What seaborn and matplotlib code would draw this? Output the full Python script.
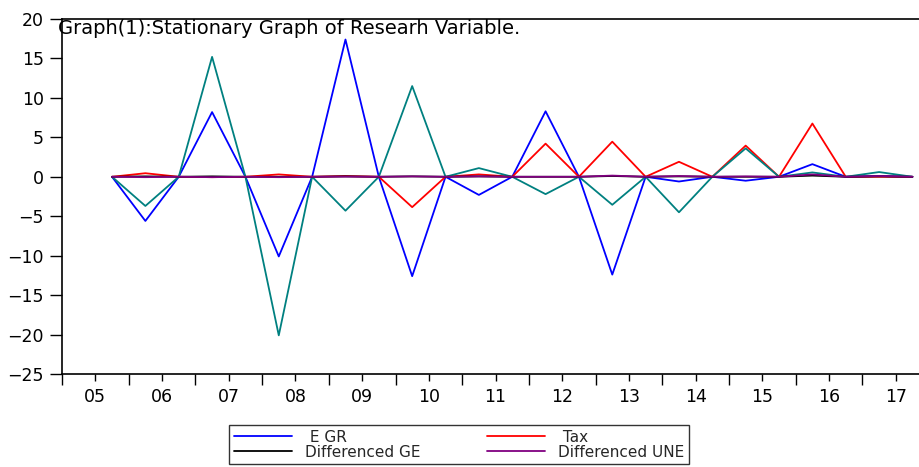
import numpy as np
import pandas as pd
import matplotlib
matplotlib.use("Agg")
import matplotlib.pyplot as plt
import seaborn as sns

# half-year periods, plotted at the middle of each half
periods = ["2005H2", "2006H1", "2006H2", "2007H1", "2007H2", "2008H1", "2008H2",
           "2009H1", "2009H2", "2010H1", "2010H2", "2011H1", "2011H2", "2012H1",
           "2012H2", "2013H1", "2013H2", "2014H1", "2014H2", "2015H1", "2015H2",
           "2016H1", "2016H2", "2017H1", "2017H2"]

egr = [0, -5.6, 0, 8.2, 0, -10.1, 0, 17.4, 0, -12.6, 0, -2.3, 0, 8.3, 0,
       -12.4, 0, -0.6, 0, -0.5, 0, 1.6, 0, 0.1, 0]
tax = [0, 0.45, 0, -0.05, 0, 0.3, 0, 0.1, 0, -3.85, 0, 0.3, 0, 4.2, 0,
       4.45, 0, 1.9, 0, 3.95, 0, 6.75, 0, 0.0, 0]
other = [0, -3.7, 0, 15.2, 0, -20.1, 0, -4.3, 0, 11.5, 0, 1.1, 0, -2.2, 0,
         -3.55, 0, -4.5, 0, 3.6, 0, 0.55, 0, 0.6, 0]
d_ge = [0, 0.05, 0, 0.05, 0, 0.0, 0, 0.05, 0, 0.05, 0, 0.05, 0, 0.0, 0,
        0.1, 0, 0.05, 0, 0.0, 0, 0.15, 0, 0.05, 0]
d_une = [0, -0.05, 0, -0.05, 0, -0.05, 0, 0.02, 0, 0.05, 0, 0.05, 0, 0.0, 0,
         0.15, 0, 0.1, 0, 0.05, 0, 0.3, 0, 0.1, 0]

year_labels = ["05", "06", "07", "08", "09", "10", "11", "12", "13", "14", "15", "16", "17"]

half_pos = {"H1": 0.25, "H2": 0.75}
t = [int(p[:4]) + half_pos[p[4:]] for p in periods]

df = pd.DataFrame({"t": t, "egr": egr, "tax": tax, "other": other,
                   "d_ge": d_ge, "d_une": d_une})

sns.set_style("ticks")
plt.rcParams['font.family'] = ['DejaVu Sans']

fig = plt.figure(figsize=(9.19, 4.67), dpi=100)
ax = fig.add_axes([62 / 919, 1 - 374 / 467, 1 - 62 / 919, (374 - 19) / 467])

lw = 1.3
sns.lineplot(data=df, x="t", y="egr", ax=ax, color="#0000FF", lw=lw, label=" E GR")
sns.lineplot(data=df, x="t", y="tax", ax=ax, color="#FF0000", lw=lw, label=" Tax")
sns.lineplot(data=df, x="t", y="other", ax=ax, color="#008080", lw=lw, label="_nolegend_")
sns.lineplot(data=df, x="t", y="d_ge", ax=ax, color="black", lw=lw, label="Differenced GE")
sns.lineplot(data=df, x="t", y="d_une", ax=ax, color="#800080", lw=lw, label="Differenced UNE")

ax.set_xlim(2005, 2005 + 857 / 66.7)
ax.set_ylim(-25, 20)
ax.set_xlabel("")
ax.set_ylabel("")

years = list(range(2005, 2018))
ax.set_xticks(years)
ax.set_xticklabels([""] * len(years))
ax.set_xticks([y + 0.5 for y in years], minor=True)
ax.set_xticklabels(year_labels, minor=True)
ax.tick_params(axis="x", which="major", length=8, width=1, direction="out", color="black")
ax.tick_params(axis="x", which="minor", length=5, width=1, direction="out", color="black",
               labelsize=12.5, labelcolor="black", pad=5)
ax.set_yticks(range(-25, 21, 5))
ax.tick_params(axis="y", length=9, width=1, direction="out", color="black",
               labelsize=12.5, labelcolor="black", pad=4)

for s in ["left", "bottom", "top"]:
    ax.spines[s].set_color("black")
    ax.spines[s].set_linewidth(1.2)
ax.spines["right"].set_visible(False)

fig.text(58 / 919, 1 - 29 / 467, "Graph(1):Stationary Graph of Researh Variable.",
         fontsize=14, va="center", ha="left", color="black")

handles, labels = ax.get_legend_handles_labels()
ax.legend_.remove()
# legend fills column by column, so reorder to get E GR / Tax on the first row
order = [0, 2, 1, 3]
leg = fig.legend([handles[i] for i in order], [labels[i] for i in order], ncol=2,
                 loc="upper left", bbox_to_anchor=(229 / 919, 1 - 425 / 467),
                 bbox_transform=fig.transFigure, borderaxespad=0,
                 fontsize=11, frameon=True, fancybox=False, edgecolor="black",
                 handlelength=3.85, labelspacing=0.0, columnspacing=4.3,
                 borderpad=0.3, handletextpad=0.85)
leg.get_frame().set_linewidth(1.0)

fig.savefig("out.png", dpi=100)
